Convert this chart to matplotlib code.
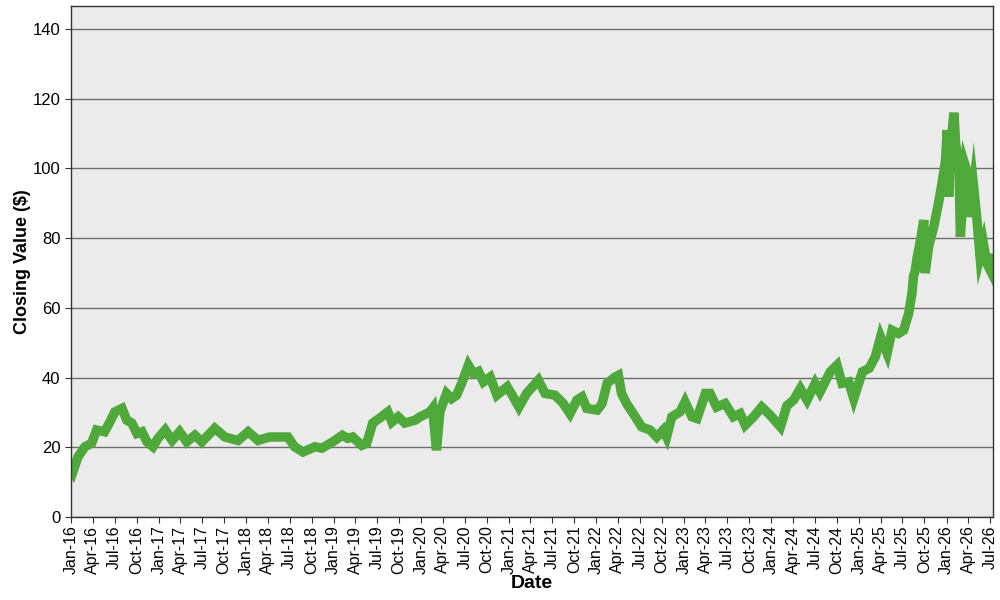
import pandas as pd
import matplotlib
matplotlib.use("Agg")
import matplotlib.pyplot as plt
import matplotlib.dates as mdates

# Closing values (approximate)
dates = [
    "2016-01-01", "2016-01-08", "2016-01-30", "2016-02-28", "2016-03-27", "2016-04-17",
    "2016-05-20", "2016-06-11", "2016-07-02", "2016-08-01", "2016-08-21", "2016-09-11",
    "2016-10-02", "2016-10-23", "2016-11-13", "2016-12-08", "2016-12-29", "2017-01-28",
    "2017-02-26", "2017-03-29", "2017-04-28", "2017-06-01", "2017-06-30", "2017-08-23",
    "2017-10-04", "2017-11-28", "2018-01-09", "2018-02-20", "2018-03-19", "2018-04-09",
    "2018-06-24", "2018-07-22", "2018-08-26", "2018-10-15", "2018-11-13", "2018-12-28",
    "2019-02-06", "2019-03-01", "2019-03-21", "2019-04-28", "2019-05-19", "2019-06-13",
    "2019-07-12", "2019-08-15", "2019-09-01", "2019-09-27", "2019-10-25", "2019-12-06",
    "2019-12-28", "2020-02-07", "2020-02-18", "2020-03-05", "2020-03-19", "2020-04-16",
    "2020-05-07", "2020-05-28", "2020-06-18", "2020-07-16", "2020-08-06", "2020-08-27",
    "2020-09-17", "2020-10-15", "2020-11-12", "2020-12-25", "2021-01-15", "2021-02-12",
    "2021-03-16", "2021-05-04", "2021-06-01", "2021-07-12", "2021-08-16", "2021-09-13",
    "2021-10-12", "2021-11-02", "2021-11-22", "2022-01-04", "2022-01-25", "2022-02-15",
    "2022-03-20", "2022-04-03", "2022-04-16", "2022-05-07", "2022-06-04", "2022-07-09",
    "2022-08-13", "2022-09-10", "2022-10-07", "2022-10-21", "2022-11-12", "2022-12-16",
    "2023-01-06", "2023-02-04", "2023-02-25", "2023-04-01", "2023-04-20", "2023-05-18",
    "2023-06-22", "2023-07-27", "2023-08-24", "2023-09-14", "2023-10-19", "2023-11-22",
    "2023-12-27", "2024-02-08", "2024-03-06", "2024-04-03", "2024-05-01", "2024-05-29",
    "2024-07-02", "2024-07-22", "2024-09-03", "2024-10-01", "2024-10-22", "2024-11-19",
    "2024-12-10", "2025-01-15", "2025-02-12", "2025-03-10", "2025-04-01", "2025-04-28",
    "2025-05-19", "2025-06-15", "2025-07-06", "2025-07-27", "2025-08-10", "2025-08-16",
    "2025-08-24", "2025-09-01", "2025-09-15", "2025-09-28", "2025-10-04", "2025-10-18",
    "2025-11-09", "2025-12-01", "2025-12-13", "2025-12-28", "2026-01-04", "2026-01-10",
    "2026-01-18", "2026-02-01", "2026-02-08", "2026-02-22", "2026-02-28", "2026-03-12",
    "2026-03-19", "2026-04-03", "2026-04-10", "2026-04-24", "2026-05-07", "2026-05-21",
    "2026-06-04", "2026-06-18", "2026-07-02", "2026-07-09",
]
closing = [
    13.5, 12.8, 17.3, 20.2, 21.2, 25.0,
    24.5, 27.3, 30.2, 31.2, 27.8, 27.0,
    24.0, 24.5, 21.6, 20.2, 22.6, 25.0,
    22.0, 24.5, 21.6, 23.5, 21.6, 25.5,
    23.0, 22.0, 24.5, 22.0, 22.6, 23.0,
    23.0, 20.2, 18.7, 20.2, 19.8, 21.6,
    23.5, 22.6, 23.0, 20.6, 21.2, 27.0,
    28.4, 30.2, 27.3, 28.8, 27.0, 27.8,
    28.8, 30.2, 31.2, 19.2, 30.2, 35.5,
    34.0, 35.0, 38.4, 43.6, 41.2, 41.8,
    38.8, 40.2, 35.0, 37.4, 35.0, 31.6,
    35.5, 39.3, 35.5, 35.0, 32.6, 29.7,
    33.6, 34.5, 31.2, 30.7, 32.6, 38.4,
    40.2, 40.7, 35.5, 32.6, 29.7, 25.9,
    25.0, 23.0, 25.0, 23.0, 28.8, 30.2,
    33.1, 28.8, 28.3, 35.5, 35.5, 31.6,
    32.6, 28.8, 29.7, 26.4, 28.8, 31.6,
    29.3, 25.9, 32.0, 33.6, 36.9, 33.6,
    38.4, 35.9, 41.7, 43.6, 38.4, 38.8,
    34.0, 41.7, 42.7, 46.0, 51.7, 47.0,
    53.6, 52.7, 53.6, 58.4, 64.2, 68.9,
    70.9, 74.7, 79.5, 85.2, 70.0, 77.5,
    83.3, 90.9, 95.7, 102.4, 111.0, 91.9,
    106.2, 116.0, 107.2, 100.5, 80.4, 94.8,
    101.0, 97.6, 86.1, 94.8, 86.1, 74.7,
    78.5, 72.8, 70.9, 75.6,
]

df = pd.DataFrame({"date": pd.to_datetime(dates), "close": closing})

plt.rcParams["font.family"] = ["Liberation Sans", "DejaVu Sans"]

fig = plt.figure(figsize=(10, 6), dpi=100)
ax = fig.add_axes([0.071, 0.138, 0.922, 0.852])
ax.set_facecolor("#ebebeb")

ax.plot(df["date"], df["close"], color="#4ea83a", linewidth=6.8,
        solid_joinstyle="miter", solid_capstyle="butt")

ax.set_ylim(0, 146.6)
ax.set_yticks(range(0, 141, 20))
ax.set_xlim(pd.Timestamp("2016-01-01"), pd.Timestamp("2026-07-14"))
ax.xaxis.set_major_locator(mdates.MonthLocator(bymonth=[1, 4, 7, 10]))
ax.xaxis.set_major_formatter(mdates.DateFormatter("%b-%y"))

ax.grid(axis="y", color="#6e6e6e", linewidth=1)
ax.set_axisbelow(True)
ax.tick_params(axis="x", labelrotation=90, labelsize=11.5, length=4, pad=2, color="#333333")
ax.tick_params(axis="y", labelsize=12, length=4, color="#333333")
for s in ax.spines.values():
    s.set_color("#333333")
    s.set_linewidth(1)

ax.set_xlabel("Date", fontsize=14, fontweight="bold", labelpad=0)
ax.set_ylabel("Closing Value ($)", fontsize=13, fontweight="bold", labelpad=1)

fig.savefig("out.png")
